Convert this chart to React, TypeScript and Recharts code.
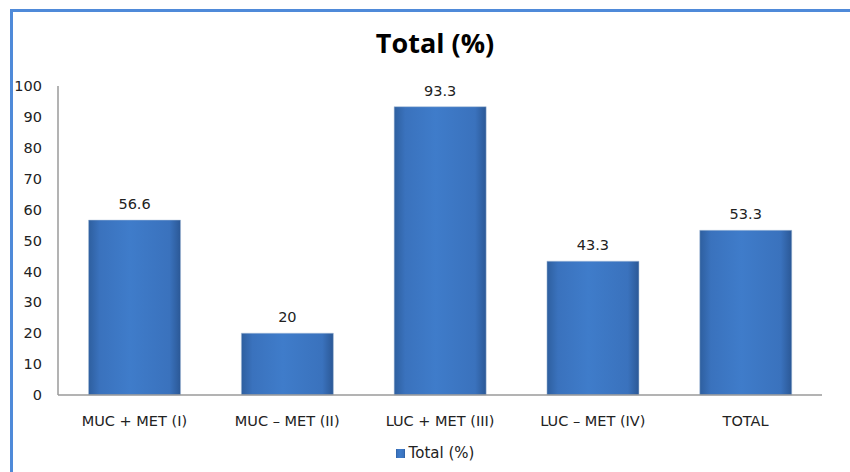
import React from 'react';
import { BarChart, Bar, XAxis, YAxis, Legend, LabelList } from 'recharts';

const categories = ['MUC + MET (I)', 'MUC \u2013 MET (II)', 'LUC + MET (III)', 'LUC \u2013 MET (IV)', 'TOTAL'];
const totals = [56.6, 20, 93.3, 43.3, 53.3];
const yTicks = [0, 10, 20, 30, 40, 50, 60, 70, 80, 90, 100];

const chartData = categories.map((name, i) => ({ name, total: totals[i] }));

const font = '"DejaVu Sans", Verdana, sans-serif';

export default function App() {
  return (
    <div style={{ position: 'absolute', left: 0, top: 0, width: 850, height: 472, background: '#fff', overflow: 'hidden' }}>
      {/* frame: only left and top edges are visible in the crop */}
      <div style={{ position: 'absolute', left: 10, top: 9, width: 850, height: 480, borderLeft: '3px solid #4f8ad9', borderTop: '3px solid #4f8ad9' }} />
      <div style={{ position: 'absolute', left: 0, top: 24, width: 870, textAlign: 'center', fontFamily: '"Open Sans", sans-serif', fontWeight: 700, fontSize: 27, color: '#000' }}>
        Total (%)
      </div>
      <div style={{ position: 'absolute', left: 0, top: 0 }}>
        <BarChart width={850} height={472} data={chartData} margin={{ top: 86, right: 28, bottom: 29, left: 13 }} barCategoryGap="20%">
          <defs>
            <linearGradient id="barFill" x1="0" y1="0" x2="1" y2="0">
              <stop offset="0%" stopColor="#2e5f9f" />
              <stop offset="12%" stopColor="#3a72bd" />
              <stop offset="45%" stopColor="#3f7cca" />
              <stop offset="88%" stopColor="#3a72bd" />
              <stop offset="100%" stopColor="#2b5896" />
            </linearGradient>
          </defs>
          <XAxis
            dataKey="name"
            axisLine={{ stroke: '#9a9a9a', strokeWidth: 1.5 }}
            tickLine={false}
            tickSize={0}
            tickMargin={21}
            tick={{ fill: '#222', fontSize: 14.5, fontFamily: font }}
            interval={0}
          />
          <YAxis
            domain={[0, 100]}
            ticks={yTicks}
            width={45}
            axisLine={{ stroke: '#9a9a9a', strokeWidth: 1.5 }}
            tickLine={false}
            tickSize={0}
            tickMargin={16}
            tick={{ fill: '#222', fontSize: 14.5, fontFamily: font }}
          />
          <Legend
            verticalAlign="bottom"
            iconType="square"
            iconSize={9}
            wrapperStyle={{ top: 444, left: 0, width: 880, fontFamily: font, fontSize: 15 }}
            formatter={(v) => <span style={{ color: '#222' }}>{v}</span>}
          />
          <Bar dataKey="total" name="Total (%)" fill="url(#barFill)" stroke="#a9bfd9" strokeWidth={0.5} isAnimationActive={false} legendType="square">
            <LabelList dataKey="total" position="top" offset={11} style={{ fill: '#222', fontSize: 14.5, fontFamily: font }} />
          </Bar>
        </BarChart>
      </div>
    </div>
  );
}
